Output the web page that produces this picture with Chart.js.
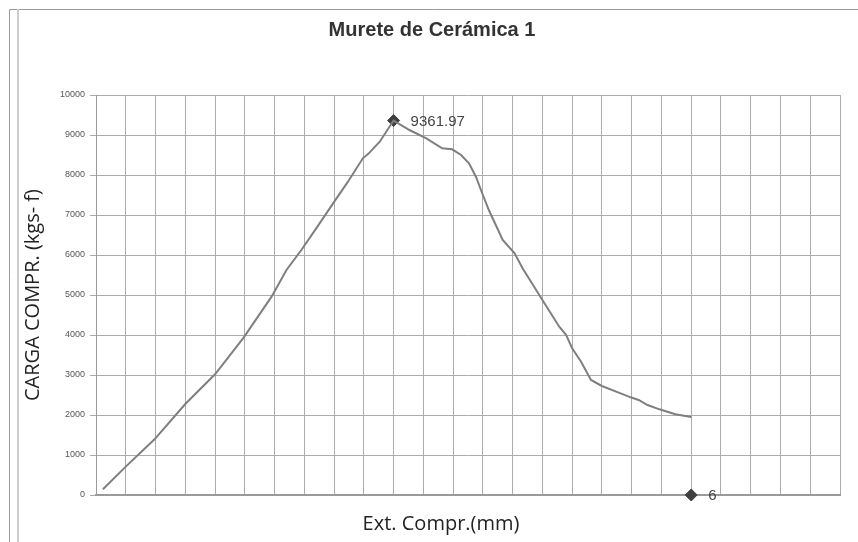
<!DOCTYPE html>
<html>
<head>
<meta charset="utf-8">
<script src="https://cdn.jsdelivr.net/npm/chart.js@4/dist/chart.umd.min.js"></script>
<style>
  html, body { margin: 0; padding: 0; background: #ffffff; }
  #wrap { width: 858px; height: 542px; position: relative; }
</style>
</head>
<body>
<div id="wrap"><canvas id="c" width="858" height="542"></canvas></div>
<script>
// ---- data ----
const chartTitle = 'Murete de Cerámica 1';
const xAxisTitle = 'Ext. Compr.(mm)';
const yAxisTitle = 'CARGA COMPR. (kgs- f)';

const extCompr = [0.07, 0.30, 0.59, 0.90, 1.20, 1.49, 1.77, 1.92, 2.07, 2.22, 2.39, 2.54, 2.69, 2.75, 2.86, 3.00,
                  3.16, 3.33, 3.49, 3.59, 3.68, 3.76, 3.83, 3.90, 3.96, 4.10, 4.22, 4.30, 4.50, 4.67, 4.74, 4.80,
                  4.89, 4.99, 5.10, 5.27, 5.39, 5.47, 5.56, 5.68, 5.84, 6.00];
const carga =     [142, 710, 1392, 2275, 3017, 3942, 4958, 5625, 6125, 6667, 7292, 7833, 8417, 8542, 8833, 9361.97,
                  9125, 8917, 8667, 8642, 8500, 8292, 7958, 7500, 7125, 6375, 6042, 5667, 4875, 4208, 4000, 3667,
                  3333, 2875, 2725, 2558, 2442, 2375, 2250, 2142, 2017, 1950];

const markerX = [3.00, 6];
const markerY = [9361.97, 0];
const markerLabels = ['9361.97', '6'];

const yTicks = [0, 1000, 2000, 3000, 4000, 5000, 6000, 7000, 8000, 9000, 10000];
const xMin = 0, xMax = 7.5, xStep = 0.3;

// ---- build ----
const curve = extCompr.map((x, i) => ({ x: x, y: carga[i] }));
const marks = markerX.map((x, i) => ({ x: x, y: markerY[i] }));

const decor = {
  id: 'decor',
  beforeDraw(chart) {
    const c = chart.ctx;
    c.save();
    c.fillStyle = '#ffffff';
    c.fillRect(0, 0, chart.width, chart.height);
    // page frame
    c.strokeStyle = '#9a9a9a';
    c.lineWidth = 1;
    c.beginPath();
    c.moveTo(9.5, 9.5); c.lineTo(858, 9.5);
    c.moveTo(9.5, 9.5); c.lineTo(9.5, 542);
    c.stroke();
    c.strokeStyle = '#c9ccd8';
    c.lineWidth = 2;
    c.beginPath();
    c.moveTo(18, 9); c.lineTo(18, 542);
    c.stroke();
    c.restore();
  },
  afterDraw(chart) {
    const c = chart.ctx;
    const xs = chart.scales.x, ys = chart.scales.y;
    c.save();
    // title
    c.fillStyle = '#333333';
    c.font = 'bold 20px "Liberation Sans", Arial, sans-serif';
    c.textAlign = 'center';
    c.textBaseline = 'middle';
    c.fillText(chartTitle, 432, 30);
    // x title
    c.fillStyle = '#222222';
    c.font = '20px "Open Sans", sans-serif';
    c.fillText(xAxisTitle, 441, 524);
    // marker labels
    c.fillStyle = '#444444';
    c.font = '15px "Liberation Sans", Arial, sans-serif';
    c.textAlign = 'left';
    markerX.forEach((x, i) => {
      const px = xs.getPixelForValue(x), py = ys.getPixelForValue(markerY[i]);
      c.fillText(markerLabels[i], px + 17, py + 1);
    });
    c.restore();
  }
};

new Chart(document.getElementById('c'), {
  type: 'scatter',
  data: {
    datasets: [
      {
        label: 'Carga',
        data: curve,
        showLine: true,
        borderColor: '#7f7f7f',
        borderWidth: 2,
        pointRadius: 0,
        tension: 0
      },
      {
        label: 'Marcas',
        data: marks,
        showLine: false,
        pointStyle: 'rectRot',
        pointRadius: 6,
        pointBackgroundColor: '#3f3f3f',
        pointBorderColor: '#3f3f3f',
        clip: false
      }
    ]
  },
  options: {
    responsive: false,
    animation: false,
    devicePixelRatio: 1,
    layout: { padding: { top: 95, right: 18, bottom: 0, left: 0 } },
    plugins: {
      legend: { display: false },
      title: { display: false },
      tooltip: { enabled: false }
    },
    scales: {
      x: {
        type: 'linear',
        min: xMin, max: xMax,
        afterFit(s) { s.height = 47; },
        ticks: { display: false, stepSize: xStep },
        afterBuildTicks(s) {
          const t = [];
          for (let i = 0; i <= Math.round((xMax - xMin) / xStep); i++) t.push({ value: +(xMin + i * xStep).toFixed(4) });
          s.ticks = t;
        },
        grid: { color: '#ababab', lineWidth: 1, drawTicks: false },
        border: { display: true, color: '#9a9a9a', width: 2 }
      },
      y: {
        type: 'linear',
        min: 0, max: 10000,
        afterFit(s) { s.width = 96; },
        afterBuildTicks(s) { s.ticks = yTicks.map(v => ({ value: v })); },
        ticks: {
          color: '#555555',
          font: { family: '"Liberation Sans", Arial, sans-serif', size: 9 },
          padding: 5,
          callback: v => String(v)
        },
        grid: { color: '#ababab', lineWidth: 1, tickLength: 6 },
        border: { display: true, color: '#9a9a9a', width: 1 },
        title: {
          display: true,
          text: yAxisTitle,
          color: '#222222',
          font: { family: '"Open Sans", sans-serif', size: 20 },
          padding: { top: 21, bottom: 0 }
        }
      }
    }
  },
  plugins: [decor]
});
</script>
</body>
</html>
